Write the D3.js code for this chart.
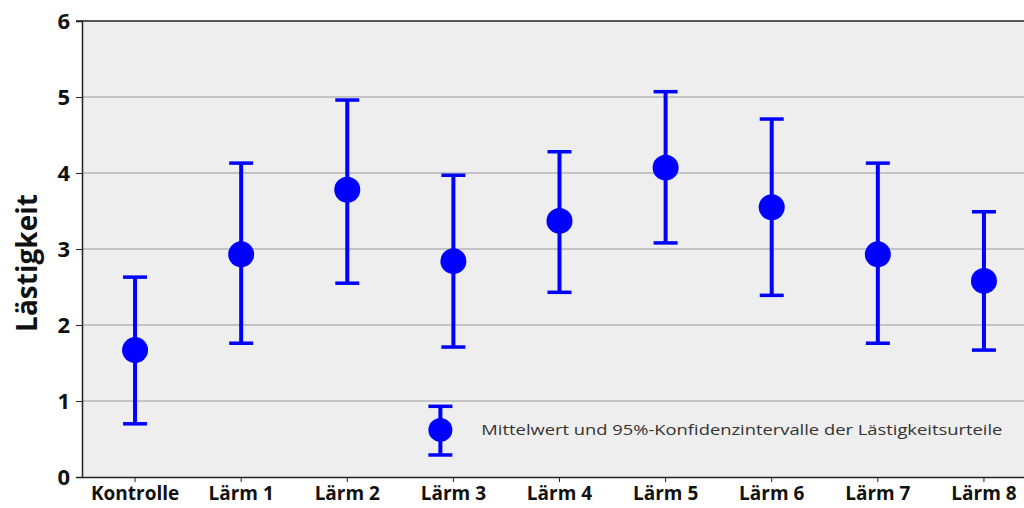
<!DOCTYPE html>
<html>
<head>
<meta charset="utf-8">
<script src="https://cdn.jsdelivr.net/npm/d3@7"></script>
<style>
  body { margin: 0; background: #fff; }
  svg { display: block; font-family: 'Open Sans', sans-serif; }
</style>
</head>
<body>
<div id="chart"></div>
<script>
const categories = ['Kontrolle', 'Lärm 1', 'Lärm 2', 'Lärm 3', 'Lärm 4', 'Lärm 5', 'Lärm 6', 'Lärm 7', 'Lärm 8'];
const means = [1.67, 2.93, 3.78, 2.84, 3.37, 4.07, 3.55, 2.93, 2.58];
const upper = [2.63, 4.13, 4.96, 3.97, 4.28, 5.07, 4.71, 4.13, 3.49];
const lower = [0.70, 1.76, 2.55, 1.71, 2.43, 3.08, 2.39, 1.76, 1.67];
const yTicks = [0, 1, 2, 3, 4, 5, 6];
const legendValues = { mean: 0.62, upper: 0.93, lower: 0.29 };
const legendText = 'Mittelwert und 95%-Konfidenzintervalle der Lästigkeitsurteile';

const width = 1024;
const height = 508;
const margin = { top: 21, right: -13, bottom: 31, left: 82 };

const data = categories.map((c, i) => ({
  cat: c,
  mean: means[i],
  hi: upper[i],
  lo: lower[i],
}));

const svg = d3
  .select('#chart')
  .append('svg')
  .attr('width', width)
  .attr('height', height);

const x = d3
  .scaleBand()
  .domain(categories)
  .range([margin.left, width - margin.right]);

const y = d3
  .scaleLinear()
  .domain([0, 6])
  .range([height - margin.bottom, margin.top]);

// plot background
svg
  .append('rect')
  .attr('x', margin.left)
  .attr('y', margin.top)
  .attr('width', width - margin.left)
  .attr('height', y(0) - margin.top)
  .attr('fill', '#eeeeee');

// gridlines
svg
  .append('g')
  .attr('class', 'grid')
  .selectAll('line')
  .data(yTicks.filter((d) => d > 0 && d < 6))
  .join('line')
  .attr('x1', margin.left)
  .attr('x2', width)
  .attr('y1', (d) => y(d))
  .attr('y2', (d) => y(d))
  .attr('stroke', '#9a9a9a')
  .attr('stroke-width', 1.2);

// top border
svg
  .append('line')
  .attr('x1', margin.left - 6)
  .attr('x2', width)
  .attr('y1', y(6))
  .attr('y2', y(6))
  .attr('stroke', '#222')
  .attr('stroke-width', 1.5);

// y axis
const yAxis = svg
  .append('g')
  .attr('transform', `translate(${margin.left}, 0)`)
  .call(
    d3.axisLeft(y).tickValues(yTicks).tickFormat(d3.format('d')).tickSize(6).tickPadding(6)
  );

yAxis.select('.domain').attr('stroke', '#222').attr('stroke-width', 1.5);
yAxis.selectAll('.tick line').attr('stroke', '#222');
yAxis
  .selectAll('.tick text')
  .attr('font-family', "'Open Sans', sans-serif")
  .attr('font-size', 22)
  .attr('font-weight', 'bold')
  .attr('fill', '#111');

// x axis
const xAxis = svg
  .append('g')
  .attr('transform', `translate(0, ${y(0)})`)
  .call(d3.axisBottom(x).tickSize(5).tickPadding(5).tickSizeOuter(0));

xAxis.select('.domain').attr('stroke', '#222').attr('stroke-width', 1.5);
xAxis.selectAll('.tick line').attr('stroke', '#222');
xAxis
  .selectAll('.tick text')
  .attr('font-family', "'Open Sans', sans-serif")
  .attr('font-size', 19)
  .attr('font-weight', 'bold')
  .attr('fill', '#111');

// y label
svg
  .append('text')
  .attr('transform', `translate(37, 263) rotate(-90)`)
  .attr('text-anchor', 'middle')
  .attr('font-size', 28)
  .attr('font-weight', 'bold')
  .attr('fill', '#111')
  .text('Lästigkeit');

const blue = '#0000ff';
const capW = 24;

function drawErrorBar(g, cx, m, hi, lo, r) {
  g.append('line')
    .attr('x1', cx).attr('x2', cx)
    .attr('y1', y(hi)).attr('y2', y(lo))
    .attr('stroke', blue).attr('stroke-width', 4);
  g.append('line')
    .attr('x1', cx - capW / 2).attr('x2', cx + capW / 2)
    .attr('y1', y(hi)).attr('y2', y(hi))
    .attr('stroke', blue).attr('stroke-width', 3.5);
  g.append('line')
    .attr('x1', cx - capW / 2).attr('x2', cx + capW / 2)
    .attr('y1', y(lo)).attr('y2', y(lo))
    .attr('stroke', blue).attr('stroke-width', 3.5);
  g.append('circle')
    .attr('cx', cx).attr('cy', y(m))
    .attr('r', r)
    .attr('fill', blue);
}

const marks = svg.append('g').attr('class', 'marks');

data.forEach((d) => {
  const cx = x(d.cat) + x.bandwidth() / 2;
  drawErrorBar(marks.append('g'), cx, d.mean, d.hi, d.lo, 13);
});

// legend
const legend = svg.append('g').attr('class', 'legend');
const lx = x('Lärm 3') + x.bandwidth() / 2 - 13;
drawErrorBar(legend, lx, legendValues.mean, legendValues.upper, legendValues.lower, 12);

legend
  .append('text')
  .attr('x', lx + 41)
  .attr('y', y(legendValues.mean) + 5)
  .attr('font-size', 14)
  .attr('fill', '#333')
  .attr('textLength', 521)
  .attr('lengthAdjust', 'spacingAndGlyphs')
  .text(legendText);
</script>
</body>
</html>
